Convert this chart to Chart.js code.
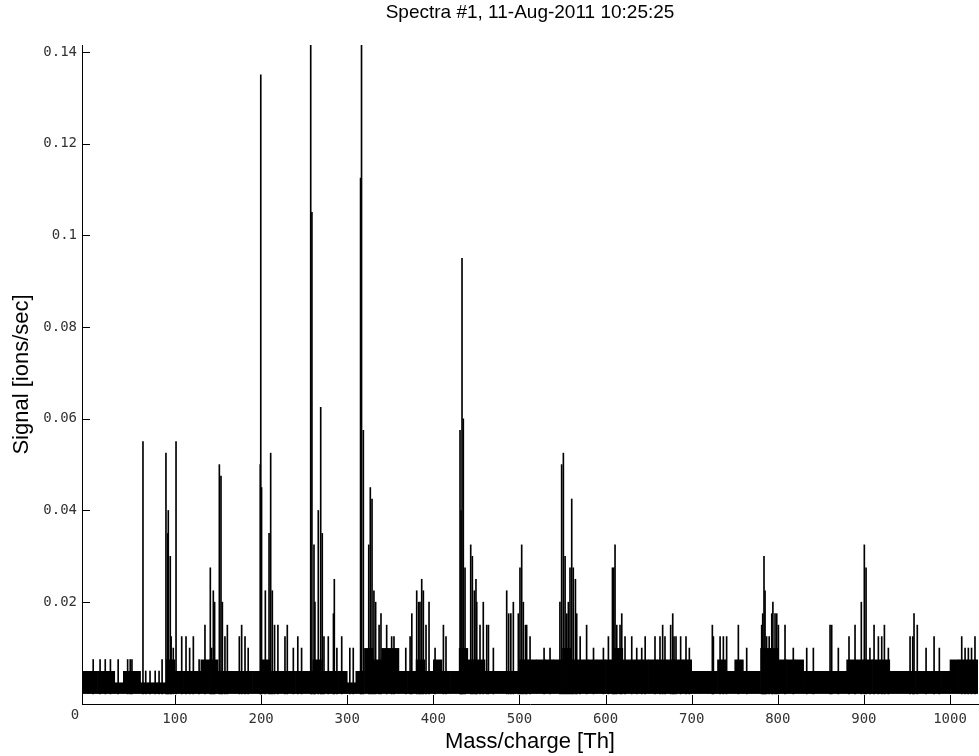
<!DOCTYPE html>
<html>
<head>
<meta charset="utf-8">
<script src="https://cdn.jsdelivr.net/npm/chart.js@4.4.0/dist/chart.umd.min.js"></script>
<style>
  html, body { margin: 0; padding: 0; background: #fff; }
  #spectrum { display: block; }
</style>
</head>
<body>
<canvas id="spectrum" width="979" height="756"></canvas>
<script>
// axis ticks
const xTicks = [0, 100, 200, 300, 400, 500, 600, 700, 800, 900, 1000];
const yTicks = [0.02, 0.04, 0.06, 0.08, 0.1, 0.12, 0.14];

// dense noise floor: top of the dark band, one value per 10 Th bin from -10 Th
const floorStart = -10;
const floorSignal = [
  0.005, 0.005, 0.005, 0.005, 0.0025, 0.005, 0.005, 0.0025, 0.0025, 0.0025,
  0.0075, 0.005, 0.005, 0.005, 0.0075, 0.0075, 0.005, 0.005, 0.005, 0.005,
  0.005, 0.0075, 0.005, 0.005, 0.005, 0.005, 0.005, 0.0075, 0.005, 0.005,
  0.005, 0.0025, 0.005, 0.01, 0.0075, 0.01, 0.01, 0.005, 0.005, 0.0075,
  0.005, 0.0075, 0.005, 0.005, 0.01, 0.0075, 0.0075, 0.005, 0.005, 0.005,
  0.005, 0.0075, 0.0075, 0.0075, 0.0075, 0.0075, 0.01, 0.0075, 0.0075, 0.0075,
  0.0075, 0.0075, 0.01, 0.0075, 0.0075, 0.0075, 0.0075, 0.0075, 0.0075, 0.0075,
  0.0075, 0.005, 0.005, 0.005, 0.0075, 0.005, 0.0075, 0.005, 0.005, 0.01,
  0.01, 0.0075, 0.0075, 0.0075, 0.005, 0.005, 0.005, 0.005, 0.005, 0.0075,
  0.0075, 0.0075, 0.0075, 0.0075, 0.005, 0.005, 0.005, 0.005, 0.005, 0.005,
  0.005, 0.0075, 0.0075, 0.0075, 0.0075
];

// individual lines standing above the floor
const peakMass = [
  5, 13, 19, 25, 34, 45, 48, 50, 62.8, 66, 71, 77, 81.5, 85,
  89.5, 91.5, 92.2, 94.5, 95.5, 98, 101.2, 107.8, 112.8, 117, 121.3, 128,
  134.8, 141, 142.6, 144.5, 146, 151.5, 153.4, 155, 158, 160.8, 174.7, 177.4, 181.3, 185,
  199, 199.6, 200.5, 204.9, 209.2, 211.1, 213, 215.6, 219.5, 227.7, 230.4, 237.4, 242.6, 247,
  257.6, 259, 261.4, 262.5, 266.4, 269.2, 271, 273, 278, 284, 285, 288, 293.6, 303, 307,
  315.5, 316.6, 318.7, 325, 326.8, 328.8, 331, 333, 337, 339.2, 345.8, 351.6, 354.3, 368, 373,
  375, 380.7, 383, 384.5, 386.5, 388.4, 391.5, 395, 402, 411.7, 414.7,
  431, 432.2, 433.3, 434.8, 436.8, 443.4, 445.3, 447.6, 449.5, 450.4, 454.2, 458, 462, 464, 469.7,
  485.2, 487.5, 490, 492.9, 498.7, 500.6, 502.6, 504.5, 507, 508.4, 512.3, 528.6, 535.5,
  547, 549, 551, 553, 555, 556.8, 558.7, 560.7, 562.5, 565, 566.5, 570.5, 578, 586, 597.5, 603.3,
  608, 609.5, 611, 613, 616.8, 618.8, 622.6, 630.4, 636.2, 642, 646,
  657.4, 663.2, 666.3, 669, 675.6, 678, 679.5, 681.8, 687.2, 693.4, 697.3,
  724, 725.2, 733, 736.8, 740.6, 754.2, 763.9,
  781.3, 782.5, 784, 785.2, 787, 790, 793, 794.3, 796.8, 798.8, 800.7, 808.4, 818, 833.6, 841.3,
  860.7, 862.6, 870.3, 882.7, 889.7, 897, 900.5, 902.5, 907, 911.8, 916.8, 920.7, 923.8, 928.4,
  953.6, 956.7, 958.2, 962, 972.2, 981.5, 987.6, 1013.6, 1017.5, 1021.3, 1025, 1029
];
const peakSignal = [
  0.0075, 0.0075, 0.0075, 0.0075, 0.0075, 0.0075, 0.0075, 0.0075, 0.055, 0.005, 0.005, 0.005, 0.005, 0.0075,
  0.0525, 0.035, 0.04, 0.03, 0.0125, 0.01, 0.055, 0.0125, 0.0125, 0.01, 0.0125, 0.0075,
  0.015, 0.0275, 0.01, 0.0225, 0.02, 0.05, 0.0475, 0.02, 0.0125, 0.015, 0.0125, 0.015, 0.0125, 0.01,
  0.05, 0.135, 0.045, 0.0225, 0.035, 0.0525, 0.0225, 0.015, 0.015, 0.0125, 0.015, 0.01, 0.0125, 0.01,
  0.145, 0.105, 0.0325, 0.02, 0.04, 0.0625, 0.035, 0.0125, 0.0125, 0.0175, 0.025, 0.01, 0.0125, 0.01, 0.01,
  0.1125, 0.145, 0.0575, 0.0325, 0.045, 0.0425, 0.0225, 0.02, 0.015, 0.0175, 0.015, 0.0125, 0.0125, 0.01, 0.0125,
  0.0175, 0.0225, 0.02, 0.02, 0.025, 0.0225, 0.015, 0.02, 0.01, 0.015, 0.0125,
  0.0575, 0.04, 0.095, 0.06, 0.0275, 0.0325, 0.03, 0.0225, 0.025, 0.02, 0.015, 0.02, 0.015, 0.015, 0.01,
  0.0225, 0.0175, 0.0175, 0.02, 0.0175, 0.0275, 0.0325, 0.02, 0.015, 0.015, 0.0125, 0.01, 0.01,
  0.02, 0.05, 0.0525, 0.03, 0.0175, 0.02, 0.0275, 0.0425, 0.0275, 0.025, 0.0175, 0.0125, 0.015, 0.01, 0.01, 0.0125,
  0.0275, 0.0275, 0.0325, 0.015, 0.015, 0.0175, 0.0125, 0.0125, 0.01, 0.01, 0.0125,
  0.0125, 0.0125, 0.015, 0.0125, 0.015, 0.0175, 0.0125, 0.0125, 0.0125, 0.0125, 0.01,
  0.015, 0.0125, 0.0125, 0.0125, 0.0125, 0.015, 0.01,
  0.015, 0.0175, 0.03, 0.0225, 0.0125, 0.0125, 0.0175, 0.02, 0.0175, 0.0175, 0.015, 0.015, 0.01, 0.01, 0.01,
  0.015, 0.015, 0.01, 0.0125, 0.015, 0.02, 0.0325, 0.0275, 0.01, 0.015, 0.0125, 0.0125, 0.015, 0.01,
  0.0125, 0.0125, 0.0175, 0.015, 0.01, 0.0125, 0.01, 0.0125, 0.01, 0.01, 0.01, 0.0125
];

// each floor bin drawn as a bar centred in its 10 Th slot
const floorData = floorSignal.map((v, i) => ({ x: floorStart + i * 10 + 5, y: v }));
const peakData = peakMass.map((m, i) => ({ x: m, y: peakSignal[i] }));

const tickFont = { family: 'DejaVu Sans Mono', size: 14 };
const labelFont = { family: 'Liberation Sans', size: 22 };

// matlab style ticks pointing into the plot, and the lone "0" under the corner
const inwardTicks = {
  id: 'inwardTicks',
  afterDraw(chart) {
    const { ctx, chartArea: a, scales: { x, y } } = chart;
    ctx.save();
    ctx.strokeStyle = '#000';
    ctx.lineWidth = 1;
    ctx.beginPath();
    y.ticks.forEach(t => {
      const py = Math.round(y.getPixelForValue(t.value)) + 0.5;
      ctx.moveTo(a.left, py);
      ctx.lineTo(a.left + 8, py);
    });
    x.ticks.forEach(t => {
      if (t.value === 0) return;
      const px = Math.round(x.getPixelForValue(t.value)) + 0.5;
      ctx.moveTo(px, a.bottom);
      ctx.lineTo(px, a.bottom - 9);
    });
    ctx.stroke();
    ctx.fillStyle = '#333';
    ctx.font = '14px "DejaVu Sans Mono"';
    ctx.textAlign = 'center';
    ctx.textBaseline = 'middle';
    ctx.fillText(String(xTicks[0]), a.left - 7, a.bottom + 11);
    ctx.restore();
  }
};

new Chart(document.getElementById('spectrum'), {
  type: 'bar',
  data: {
    datasets: [
      {
        data: peakData,
        xAxisID: 'x',
        order: 1,
        backgroundColor: '#000',
        borderWidth: 0,
        grouped: false,
        barThickness: 1
      },
      {
        data: floorData,
        xAxisID: 'xFloor',
        order: 2,
        backgroundColor: '#000',
        borderWidth: 0,
        grouped: false,
        categoryPercentage: 1,
        barPercentage: 1.08
      }
    ]
  },
  options: {
    responsive: false,
    animation: false,
    devicePixelRatio: 1,
    layout: { padding: { top: 0, right: 1, bottom: 0, left: 0 } },
    plugins: {
      legend: { display: false },
      tooltip: { enabled: false },
      title: {
        display: true,
        text: 'Spectra #1, 11-Aug-2011 10:25:25',
        fullSize: false,
        color: '#000',
        font: { family: 'Liberation Sans', size: 19, weight: 'normal' },
        padding: { top: 1.6, bottom: 20.6 }
      }
    },
    scales: {
      x: {
        type: 'linear',
        min: -8,
        max: 1032.5,
        offset: false,
        afterFit: axis => { axis.height = 52; },
        afterBuildTicks: axis => { axis.ticks = xTicks.map(v => ({ value: v })); },
        grid: { display: false, drawTicks: false, offset: false },
        border: { display: true, color: '#000', width: 1 },
        ticks: {
          padding: 7,
          maxRotation: 0,
          autoSkip: false,
          color: '#333',
          font: tickFont,
          callback: v => (v === 0 ? '' : String(v))
        },
        title: {
          display: true,
          text: 'Mass/charge [Th]',
          color: '#000',
          font: labelFont,
          padding: { top: 0, bottom: 1 }
        }
      },
      xFloor: {
        type: 'linear',
        display: false,
        min: -8,
        max: 1032.5,
        offset: false,
        grid: { offset: false }
      },
      y: {
        type: 'linear',
        min: -0.0022,
        max: 0.1415,
        afterFit: axis => { axis.width = 82; },
        afterBuildTicks: axis => { axis.ticks = yTicks.map(v => ({ value: v })); },
        grid: { display: false, drawTicks: false },
        border: { display: true, color: '#000', width: 1 },
        ticks: {
          padding: 5,
          autoSkip: false,
          color: '#333',
          font: tickFont,
          callback: v => String(v)
        },
        title: {
          display: true,
          text: 'Signal [ions/sec]',
          color: '#000',
          font: labelFont,
          padding: { top: 9, bottom: 0 }
        }
      }
    }
  },
  plugins: [inwardTicks]
});
</script>
</body>
</html>
